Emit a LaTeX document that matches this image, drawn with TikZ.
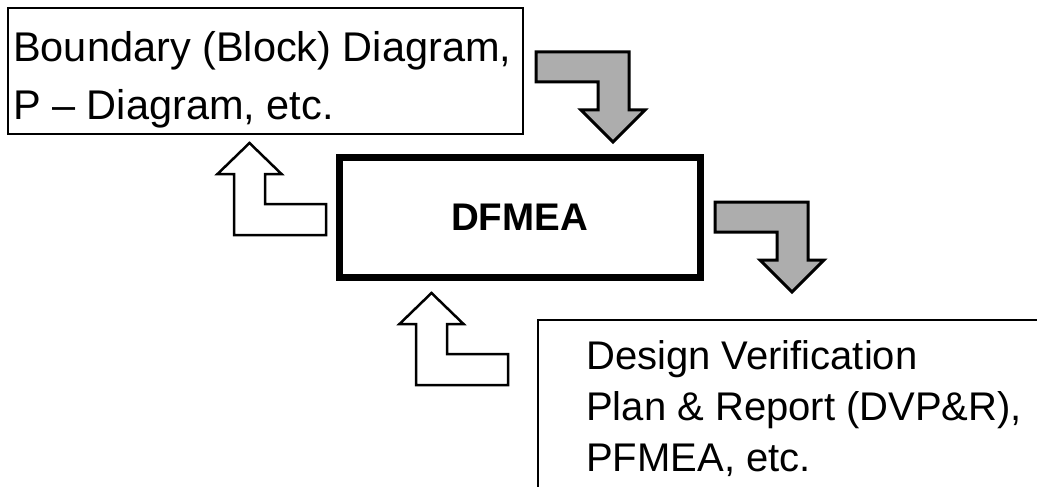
\documentclass[tikz,border=0pt]{standalone}
\usepackage{fontspec}
\setmainfont{Liberation Sans}
\begin{document}
\begin{tikzpicture}[x=1pt,y=-1pt,
  thinbox/.style={draw=black, line width=2pt, inner sep=0pt, anchor=north west},
  mainbox/.style={draw=black, line width=7pt, inner sep=0pt, minimum width=361pt, minimum height=120pt,
    font=\bfseries\fontsize{38.5}{40}\selectfont},
  toptxt/.style={anchor=base west, inner sep=0pt, font=\fontsize{41.5}{49}\selectfont},
  bottxt/.style={anchor=base west, inner sep=0pt, font=\fontsize{40}{48}\selectfont},
  grayarrow/.style={draw=black, line width=3pt, line join=miter, fill=black!32},
  whitearrow/.style={draw=black, line width=2.5pt, line join=miter, fill=white},
  downbend/.pic={\draw[pic actions] (0,0) -- (93,0) -- (93,58) -- (109,58) -- (77,90) -- (45,58) -- (62,58) -- (62,30) -- (0,30) -- cycle;},
  upbend/.pic={\draw[pic actions] (15.5,0) -- (47.5,31) -- (31,31) -- (31,61) -- (92,61) -- (92,92) -- (0,92) -- (0,31) -- (-16.5,31) -- cycle;}
]
\useasboundingbox[fill=white] (0,0) rectangle (1037,487);

% top box
\node[thinbox, minimum width=515pt, minimum height=126pt] (topbox) at (7,7) {};
\node[toptxt] (t1) at (13,62) {Boundary (Block) Diagram,};
\node[toptxt] (t2) at (13,120) {P – Diagram, etc.};

% main box
\node[mainbox] (dfmea) at (519.5,217) {DFMEA};

% bottom box (cut by the picture edge)
\begin{scope}
  \clip (0,0) rectangle (1037,487);
  \node[thinbox, minimum width=520pt, minimum height=200pt] (botbox) at (537,319) {};
\end{scope}
\node[bottxt] (b1) at (586,369) {Design Verification};
\node[bottxt] (b2) at (586,420) {Plan \& Report (DVP\&R),};
\node[bottxt] (b3) at (586,471) {PFMEA, etc.};

% block arrows
\pic[grayarrow] (ga1) at (536,52) {downbend};
\pic[grayarrow] (ga2) at (715,202) {downbend};
\pic[whitearrow] (wa1) at (234,143) {upbend};
\pic[whitearrow] (wa2) at (416,293) {upbend};
\end{tikzpicture}
\end{document}
